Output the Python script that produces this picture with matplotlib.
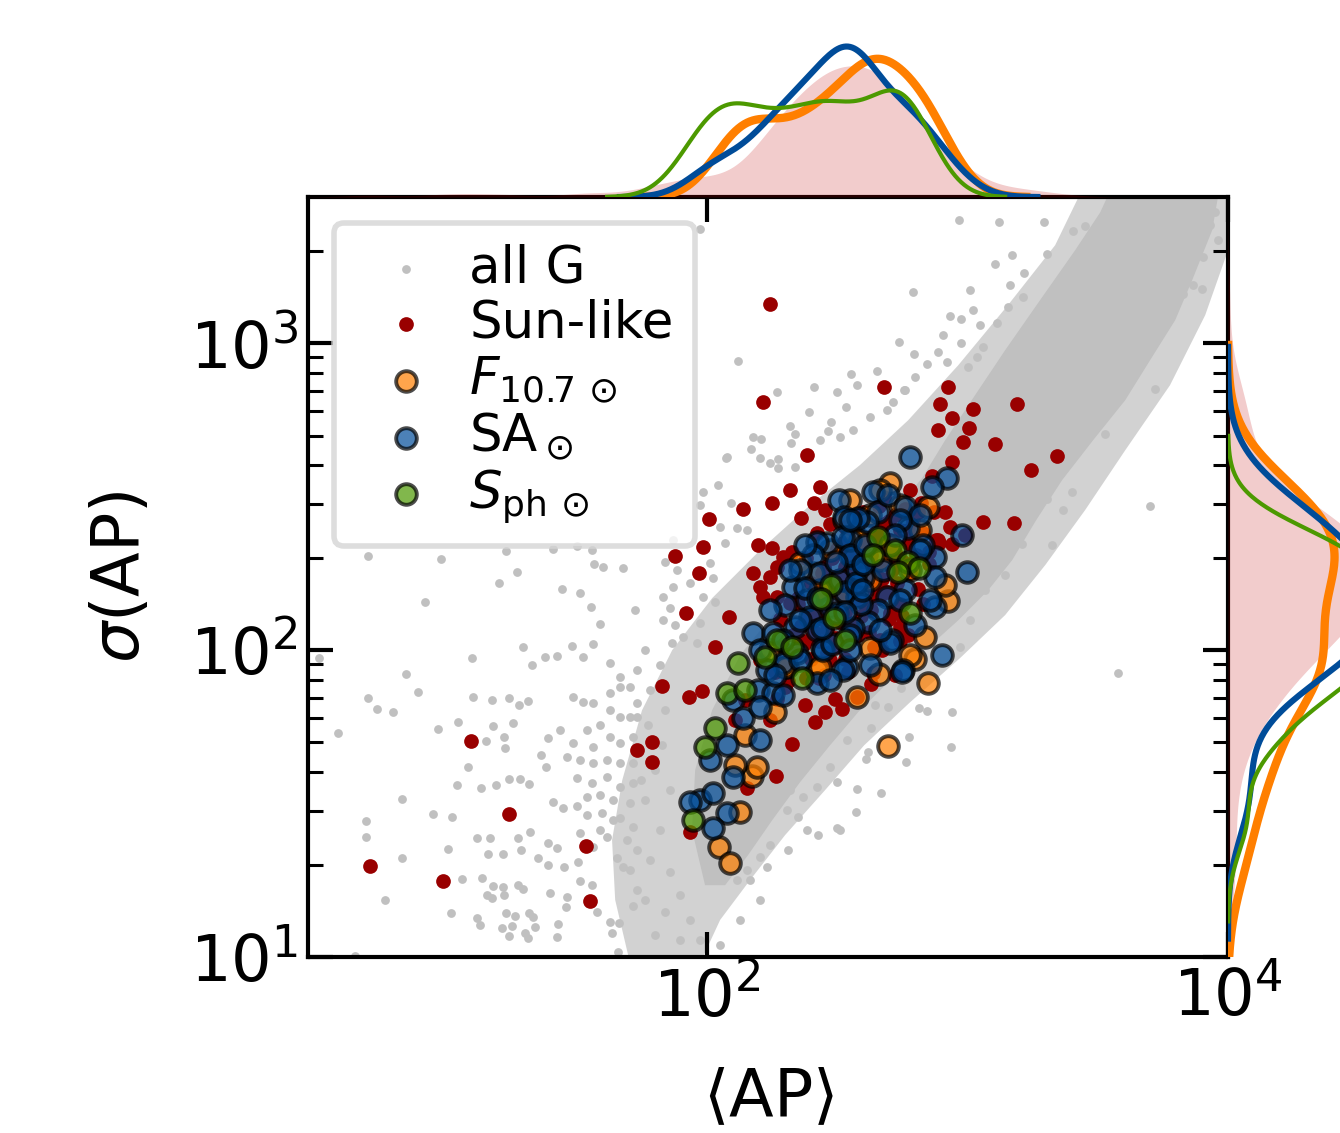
import numpy as np
import matplotlib.pyplot as plt
from matplotlib.ticker import NullLocator

# all values are log10(<AP>) and log10(sigma(AP))
# (points that sit under the Sun markers are estimated from what peeks through)

# Sun-like stars
sun_lx = [0.706, 0.987, 1.094, 1.240, 1.536, 1.551, 1.731, 1.789, 1.789, 1.827,
          1.931, 1.981, 1.935, 2.031, 1.920, 2.085, 1.877, 1.969, 1.985, 2.008,
          2.138, 2.250, 2.319, 2.384, 2.411, 2.434, 2.453, 2.196, 2.250, 2.326,
          2.292, 2.269, 2.177, 2.242, 2.204, 2.215, 2.269, 2.319, 2.242, 2.215,
          2.680, 2.925, 2.895, 3.021, 3.190, 2.941, 3.006, 2.887, 2.983, 3.106,
          3.344, 2.941, 3.244, 2.779, 2.864, 3.060, 3.179, 2.914, 2.933, 2.887,
          2.941, 2.326, 2.265, 2.415, 2.453, 2.518, 2.491, 2.376, 2.154, 2.637,
          2.576, 2.741, 2.703, 2.357, 2.472, 2.587, 2.664, 2.741, 2.511, 2.280,
          2.204, 2.146, 2.108, 2.242, 2.990,
          2.36, 2.42, 2.47, 2.53, 2.59, 2.64, 2.70, 2.77, 2.81, 2.88,
          2.38, 2.45, 2.55, 2.62, 2.71, 2.78, 2.85, 2.35, 2.44, 2.52,
          2.61, 2.68, 2.75, 2.83, 2.40, 2.49, 2.58, 2.67, 2.74, 2.43,
          2.54, 2.63, 2.72, 2.31, 2.27,
          2.26, 2.29, 2.31, 2.33, 2.34, 2.36, 2.37, 2.39, 2.40, 2.41,
          2.42, 2.43, 2.44, 2.45, 2.46, 2.47, 2.48, 2.49, 2.50, 2.50,
          2.51, 2.52, 2.53, 2.53, 2.54, 2.55, 2.55, 2.56, 2.57, 2.57,
          2.58, 2.59, 2.59, 2.60, 2.61, 2.61, 2.62, 2.63, 2.63, 2.64,
          2.65, 2.65, 2.66, 2.67, 2.67, 2.68, 2.69, 2.69, 2.70, 2.71,
          2.72, 2.72, 2.73, 2.74, 2.75, 2.76, 2.77, 2.78, 2.79, 2.80,
          2.82, 2.83, 2.85, 2.87, 2.89, 2.35, 2.44, 2.52, 2.58, 2.48,
          2.38, 2.46, 2.54, 2.62, 2.70, 2.60, 2.66, 2.56, 2.50, 2.43,
          2.30, 2.28, 2.40, 2.64, 2.74, 2.81, 2.77, 2.68, 2.53, 2.45]
sun_ly = [1.296, 1.247, 1.703, 1.466, 1.361, 1.182, 1.674, 1.700, 1.635, 1.883,
          1.847, 1.866, 1.407, 2.010, 2.120, 2.107, 2.306, 2.251, 2.335, 2.426,
          2.459, 2.479, 2.521, 2.635, 2.479, 2.531, 2.456, 2.342, 2.332, 2.319,
          2.303, 2.270, 2.251, 2.238, 2.205, 2.172, 2.172, 2.153, 3.127, 2.808,
          2.856, 2.856, 2.801, 2.785, 2.801, 2.755, 2.723, 2.716, 2.677, 2.671,
          2.632, 2.612, 2.586, 2.521, 2.566, 2.417, 2.413, 2.449, 2.400, 2.358,
          2.345, 1.694, 1.589, 1.765, 1.798, 1.808, 1.840, 1.821, 1.550, 1.925,
          1.847, 2.075, 2.120, 2.032, 1.967, 2.163, 2.032, 2.293, 2.244, 2.097,
          1.967, 1.837, 1.772, 1.772, 2.374,
          2.43, 2.38, 2.41, 2.40, 2.44, 2.37, 2.42, 2.39, 2.45, 2.36,
          2.30, 2.27, 2.31, 2.26, 2.29, 2.28, 2.32, 2.17, 2.12, 2.16,
          2.14, 2.19, 2.11, 2.15, 2.04, 2.01, 2.05, 2.00, 2.03, 1.91,
          1.93, 1.89, 1.92, 1.90, 1.84,
          1.93, 2.01, 1.96, 2.05, 1.99, 2.08, 2.02, 2.11, 1.97, 2.06,
          2.14, 2.03, 2.10, 2.18, 2.07, 2.13, 2.21, 2.04, 2.16, 2.24,
          2.09, 2.19, 2.27, 2.12, 2.22, 2.15, 2.30, 2.08, 2.25, 2.18,
          2.33, 2.11, 2.21, 2.28, 2.16, 2.36, 2.24, 2.31, 2.13, 2.20,
          2.38, 2.27, 2.17, 2.34, 2.23, 2.41, 2.29, 2.19, 2.36, 2.26,
          2.44, 2.32, 2.22, 2.39, 2.29, 2.46, 2.35, 2.25, 2.42, 2.31,
          2.48, 2.38, 2.28, 2.45, 2.35, 2.15, 2.25, 2.35, 2.41, 2.30,
          1.91, 1.99, 2.03, 2.06, 2.10, 2.45, 2.47, 2.39, 2.33, 2.20,
          1.88, 2.10, 2.22, 2.01, 2.15, 2.20, 2.05, 2.50, 1.97, 1.92]

# F10.7 (Sun)
f107_lx = [2.837, 2.798, 2.848, 2.695, 2.660, 2.576, 2.173, 2.192, 2.127, 2.046,
           2.088, 2.307, 2.422, 2.261, 2.108, 2.561, 2.703, 2.848, 2.925, 2.914,
           2.626, 2.779, 2.407, 2.357, 2.434, 2.299, 2.511, 2.664, 2.242, 2.146,
           2.549, 2.626, 2.741, 2.664, 2.526, 2.818, 2.587, 2.472, 2.703, 2.779,
           2.626, 2.434]
f107_ly = [2.042, 1.971, 1.892, 1.687, 1.922, 1.847, 1.589, 1.619, 1.472, 1.358,
           1.306, 1.944, 1.935, 1.798, 1.625, 2.381, 2.544, 2.466, 2.159, 2.211,
           2.006, 1.984, 2.251, 2.283, 1.944, 1.944, 2.163, 2.293, 2.000, 1.723,
           2.488, 2.439, 2.472, 2.521, 2.423, 2.391, 2.358, 2.326, 2.342, 2.260,
           2.228, 2.195]

# SA (Sun)
sa_lx = [2.779, 2.921, 2.864, 2.979, 2.998, 2.637, 2.507, 2.526, 2.656, 2.695,
         2.760, 2.614, 2.772, 2.818, 2.875, 2.829, 2.561, 2.599, 2.676, 2.760,
         2.461, 2.875, 2.875, 2.691, 2.576, 2.656, 2.618, 2.710, 2.902, 2.561,
         2.741, 2.511, 2.472, 2.422, 2.407, 2.434, 2.330, 2.576, 2.384, 2.395,
         2.856, 2.338, 2.422, 2.441, 2.537, 2.422, 2.752, 2.177, 2.253, 2.345,
         2.292, 2.230, 2.196, 2.253, 2.292, 2.100, 2.138, 2.204, 2.204, 2.077,
         2.012, 2.100, 1.973, 2.023, 2.077, 2.023, 1.935, 2.522, 2.445, 2.749,
         2.703, 2.357, 2.549,
         2.52, 2.55, 2.58, 2.53, 2.57, 2.50, 2.55, 2.60, 2.48, 2.59,
         2.319, 2.376, 2.299, 2.357, 2.441, 2.292, 2.495, 2.426, 2.530, 2.595,
         2.664, 2.741, 2.798, 2.549, 2.626, 2.357, 2.204, 2.472, 2.549, 2.722,
         2.818, 2.242, 2.376, 2.261, 2.607]
sa_ly = [2.628, 2.560, 2.531, 2.374, 2.254, 2.514, 2.488, 2.433, 2.449, 2.505,
         2.466, 2.417, 2.397, 2.439, 2.303, 2.342, 2.299, 2.238, 2.260, 2.195,
         2.348, 2.238, 2.140, 2.172, 2.172, 2.130, 2.091, 2.032, 1.984, 2.071,
         2.423, 2.228, 2.140, 2.352, 2.309, 2.251, 2.205, 2.260, 2.163, 2.107,
         2.163, 2.075, 2.065, 2.006, 1.944, 1.892, 1.935, 2.055, 2.055, 1.990,
         1.957, 1.935, 1.870, 1.860, 1.853, 1.837, 1.778, 1.814, 1.707, 1.690,
         1.642, 1.586, 1.511, 1.534, 1.469, 1.420, 1.505, 1.935, 2.000, 1.928,
         2.023, 2.260, 2.358,
         2.37, 2.31, 2.43, 2.19, 2.22, 2.12, 2.05, 2.28, 2.02, 2.15,
         2.261, 2.202, 2.147, 2.098, 2.072, 2.033, 2.287, 2.169, 2.124, 2.195,
         2.065, 2.163, 2.081, 2.000, 1.951, 1.967, 2.000, 1.902, 2.423, 2.375,
         2.326, 2.130, 2.342, 1.919, 2.342]

# S_ph (Sun)
sph_lx = [2.656, 2.722, 2.637, 2.772, 2.814, 2.733, 2.476, 2.438, 2.779, 2.488,
          2.530, 2.269, 2.326, 2.223, 2.119, 2.365, 2.077, 2.146, 2.031, 1.992,
          1.946]
sph_ly = [2.368, 2.326, 2.309, 2.287, 2.267, 2.254, 2.211, 2.166, 2.120, 2.104,
          2.032, 2.032, 2.010, 1.977, 1.957, 1.909, 1.860, 1.870, 1.746, 1.684,
          1.446]

# all G stars: outline of the saturated core, outline of the dense halo, scattered stars
core_lx = [1.992, 1.942, 1.954, 2.019, 2.127, 2.261, 2.415, 2.568, 2.714, 2.825,
           2.914, 3.029, 3.144, 3.278, 3.413, 3.509, 3.560, 3.970, 3.939, 3.862,
           3.797, 3.701, 3.605, 3.482, 3.363, 3.263, 3.171, 3.079, 2.964, 2.837,
           2.703, 2.580, 2.472, 2.357, 2.250, 2.157, 2.069]
core_ly = [1.234, 1.414, 1.609, 1.804, 1.984, 2.124, 2.244, 2.342, 2.449, 2.560,
           2.684, 2.831, 2.977, 3.140, 3.303, 3.426, 3.520, 3.520, 3.368, 3.205,
           3.075, 2.945, 2.814, 2.684, 2.554, 2.423, 2.293, 2.195, 2.097, 2.000,
           1.902, 1.798, 1.690, 1.570, 1.446, 1.332, 1.234]
halo_lx = [1.704, 1.647, 1.635, 1.674, 1.750, 1.866, 2.019, 2.204, 2.395, 2.587,
           2.772, 2.964, 3.155, 3.336, 3.451, 4.000, 4.000, 3.912, 3.777, 3.605,
           3.451, 3.298, 3.144, 2.971, 2.779, 2.603, 2.453, 2.299, 2.165, 2.050,
           1.973]
halo_ly = [0.980, 1.186, 1.381, 1.576, 1.804, 2.000, 2.169, 2.326, 2.472, 2.603,
           2.749, 2.928, 3.124, 3.319, 3.520, 3.520, 3.303, 3.091, 2.863, 2.651,
           2.456, 2.277, 2.114, 1.974, 1.830, 1.690, 1.544, 1.397, 1.251, 1.121,
           0.980]

allg_lx = [0.699, 0.979, 1.228, 1.409, 1.501, 1.559, 1.271, 1.202, 1.443, 1.512,
           1.566, 1.601, 1.678, 0.918, 1.555, 1.589, 1.724, 1.294, 1.482, 1.562,
           1.524, 1.424, 1.378, 1.328, 1.098, 0.511, 0.845, 0.699, 0.733, 0.795,
           0.891, 0.584, 0.967, 1.044, 1.102, 1.175, 1.240, 1.278, 1.313, 1.179,
           1.255, 1.221, 1.225, 1.152, 1.083, 1.040, 1.132, 1.190, 1.240, 1.282,
           1.317, 1.363, 1.382, 1.390, 1.436, 0.829, 0.948, 1.021, 0.691, 0.691,
           0.829, 1.006, 1.117, 1.167, 1.159, 1.217, 1.274, 1.286, 1.321, 1.390,
           1.424, 1.351, 1.060, 1.136, 1.179, 1.217, 1.155, 1.175, 1.221, 1.274,
           1.294, 1.397, 1.463, 1.459, 1.390, 1.451, 1.505, 0.764, 1.017, 1.117,
           1.129, 1.228, 1.263, 1.317, 1.332, 1.213, 1.251, 1.240, 1.301, 1.313,
           1.340, 1.428, 1.424, 1.512, 1.559, 1.628, 1.662, 1.635, 1.658, 0.649,
           1.716, 1.731, 1.704, 1.578, 1.562, 1.512, 1.409, 1.447, 1.501, 1.539,
           1.597, 1.666, 1.716, 1.616, 1.655, 1.678, 1.486, 1.524, 1.562, 1.628,
           1.666, 1.589, 1.539, 1.486, 1.562, 1.628, 1.666, 1.716, 1.704, 1.716,
           1.666, 1.616, 1.562, 1.512, 1.463, 1.501, 1.559, 1.616, 1.666, 1.716,
           1.704, 1.639, 1.589, 1.539, 1.639, 1.693, 1.731, 1.589, 1.731, 1.666,
           1.628, 1.666, 1.731, 1.704, 1.628, 1.731,
           1.869, 1.839, 1.885, 1.935, 1.869, 1.831, 1.858, 1.877, 1.831, 1.908,
           1.866, 1.962, 1.985, 2.031, 2.023, 2.012, 2.069, 1.973, 1.985, 2.042,
           2.092, 1.973, 2.050, 2.115, 2.154, 2.077, 2.204, 2.242, 2.273, 2.338,
           1.762, 1.820, 1.781, 1.839, 1.800, 1.858, 1.762, 1.820, 1.781, 1.858,
           1.762, 1.839, 1.896, 1.935, 1.973, 1.896, 1.800, 1.774, 1.827, 1.747,
           1.973, 2.119, 2.737, 2.653, 2.553, 2.576, 2.499, 2.411, 2.269, 2.392,
           2.534, 2.476, 2.319, 2.338, 2.465, 2.177, 2.207, 2.073, 2.169, 2.273,
           2.322, 2.434, 2.511, 2.561, 2.626, 2.691, 2.756, 2.714,
           2.967, 3.121, 3.294, 3.405, 3.451, 2.791, 3.010, 3.106, 3.171, 3.305,
           3.217, 3.163, 3.213, 3.021, 2.933, 2.975, 2.906, 2.975, 2.887, 2.795,
           2.760, 2.798, 2.845, 2.921, 3.048, 3.113, 3.155, 3.060, 3.002, 3.036,
           3.950, 3.931, 3.962, 3.904, 3.866, 3.900, 3.827, 3.777, 3.766, 3.727,
           3.689, 3.651, 3.635, 3.593, 3.720, 3.532, 3.528, 3.470, 3.482, 3.405,
           3.420, 3.355, 3.401, 3.305, 3.367, 3.267, 3.240, 3.228, 3.701, 3.324,
           3.209, 3.152, 3.117, 3.067, 3.144, 3.010,
           3.578, 2.745, 2.814, 2.845, 2.941, 2.775, 2.937, 2.764, 2.618, 2.610,
           2.537, 2.630, 2.576, 2.668, 2.572, 2.511, 2.645, 2.695, 2.971,
           2.319, 2.369, 2.422, 2.472, 2.499, 2.307, 2.349, 2.384, 2.311, 2.242,
           2.204, 2.230, 2.499, 2.426, 2.154, 2.165, 2.115, 2.204, 2.127, 2.050]
allg_ly = [2.306, 2.296, 2.322, 2.329, 2.339, 2.326, 2.254, 2.218, 2.198, 2.186,
           2.280, 2.270, 2.267, 2.156, 2.140, 2.084, 2.130, 2.010, 2.013, 2.019,
           1.977, 1.980, 1.977, 1.951, 1.974, 1.974, 1.922, 1.843, 1.808, 1.798,
           1.863, 1.729, 1.742, 1.765, 1.847, 1.837, 1.843, 1.821, 1.834, 1.752,
           1.762, 1.716, 1.681, 1.703, 1.619, 1.560, 1.550, 1.560, 1.580, 1.580,
           1.563, 1.658, 1.619, 1.713, 1.739, 1.515, 1.466, 1.456, 1.443, 1.391,
           1.322, 1.352, 1.387, 1.387, 1.335, 1.335, 1.387, 1.348, 1.407, 1.371,
           1.355, 1.322, 1.254, 1.257, 1.231, 1.228, 1.202, 1.192, 1.202, 1.234,
           1.221, 1.208, 1.195, 1.163, 1.300, 1.293, 1.309, 1.186, 1.143, 1.127,
           1.104, 1.143, 1.133, 1.143, 1.130, 1.094, 1.101, 1.068, 1.078, 1.062,
           1.098, 1.107, 1.065, 1.247, 1.234, 1.114, 1.111, 1.078, 1.016, 1.003,
           1.166, 1.218, 1.283, 1.146, 1.358, 1.404, 1.505, 1.485, 1.492, 1.462,
           1.469, 1.453, 1.423, 1.391, 1.322, 1.293, 1.847, 1.830, 1.827, 1.860,
           1.782, 1.756, 1.739, 1.697, 1.684, 1.716, 1.697, 1.716, 1.782, 1.632,
           1.632, 1.642, 1.632, 1.642, 1.651, 1.583, 1.567, 1.586, 1.554, 1.567,
           1.501, 1.511, 1.528, 1.521, 1.446, 1.381, 1.348, 1.414, 1.935, 1.912,
           1.957, 1.879, 1.827, 1.879, 1.804, 1.782,
           2.358, 2.287, 2.260, 2.218, 2.205, 2.172, 2.137, 2.081, 2.097, 2.042,
           2.023, 2.023, 2.172, 2.156, 2.234, 2.283, 2.348, 2.088, 2.514, 2.537,
           2.479, 2.472, 2.400, 2.397, 2.391, 2.628, 2.625, 2.609, 2.593, 2.596,
           2.000, 1.951, 1.870, 1.804, 1.609, 1.544, 1.511, 1.414, 1.316, 1.277,
           1.186, 1.146, 1.202, 1.121, 1.055, 1.055, 1.072, 1.756, 1.690, 1.576,
           3.371, 2.941, 3.003, 2.909, 2.899, 2.863, 2.840, 2.856, 2.840, 2.775,
           2.791, 2.742, 2.729, 2.703, 2.713, 2.694, 2.687, 2.625, 2.654, 2.622,
           2.674, 2.684, 2.694, 2.716, 2.759, 2.782, 2.847, 2.808,
           3.400, 3.394, 3.394, 3.364, 3.381, 3.166, 3.172, 3.257, 3.286, 3.290,
           3.228, 3.189, 3.150, 3.107, 3.088, 3.078, 3.026, 3.000, 2.970, 2.964,
           2.847, 2.889, 2.931, 2.938, 3.058, 3.065, 3.117, 2.987, 2.922, 2.954,
           3.426, 3.384, 3.335, 3.280, 3.189, 3.176, 3.159, 3.127, 3.094, 3.029,
           2.996, 2.964, 2.922, 2.902, 2.850, 2.785, 2.703, 2.798, 2.765, 2.703,
           2.645, 2.576, 2.514, 2.492, 2.456, 2.540, 2.524, 2.498, 2.469, 2.342,
           2.345, 2.374, 2.345, 2.195, 2.244, 2.097,
           1.925, 1.876, 1.811, 1.801, 1.798, 1.716, 1.684, 1.635, 1.668, 1.645,
           1.707, 1.746, 1.547, 1.534, 1.472, 1.414, 1.821, 1.814, 2.010,
           1.544, 1.521, 1.554, 1.619, 1.570, 1.479, 1.456, 1.414, 1.348, 1.365,
           1.326, 1.293, 1.420, 1.397, 1.283, 1.251, 1.251, 1.186, 1.121, 1.039]

c_gray = '#c0c0c0'
c_red = '#990000'
c_pink = '#c00000'
c_orange = '#ff7f00'
c_blue = '#004c99'
c_green = '#4c9900'


def kde(vals, bw, cut=3, n=400):
    v = np.asarray(vals)
    g = np.linspace(v.min() - cut * bw, v.max() + cut * bw, n)
    d = np.exp(-0.5 * ((g[:, None] - v[None, :]) / bw) ** 2).sum(1)
    return g, d / (len(v) * bw * np.sqrt(2 * np.pi))


p = lambda a: 10 ** np.asarray(a)

fig = plt.figure(figsize=(6.7, 5.665), dpi=200)
ax = fig.add_axes([0.2299, 0.1553, 0.6866, 0.6708])
ax_top = fig.add_axes([0.2299, 0.8261, 0.6866, 0.1395], sharex=ax)
ax_right = fig.add_axes([0.9164, 0.1553, 0.1179, 0.6708], sharey=ax)

ax.set_xscale('log')
ax.set_yscale('log')

ax.fill(p(halo_lx), p(halo_ly), color=c_gray, alpha=0.7, lw=0, zorder=1)
ax.fill(p(core_lx), p(core_ly), color=c_gray, lw=0, zorder=1.1)
ax.scatter(p(allg_lx), p(allg_ly), s=10, c=c_gray, lw=0, zorder=1.2, label='all G')
ax.scatter(p(sun_lx), p(sun_ly), s=28, c=c_red, lw=0, zorder=2, label='Sun-like')
kw = dict(s=55, edgecolors='k', linewidths=1.4, alpha=0.7)
ax.scatter(p(f107_lx), p(f107_ly), c=c_orange, zorder=3,
           label=r'$F_{10.7\,\odot}$', **kw)
ax.scatter(p(sa_lx), p(sa_ly), c=c_blue, zorder=4, label=r'SA$_\odot$', **kw)
ax.scatter(p(sph_lx), p(sph_ly), c=c_green, zorder=5,
           label=r'$S_{\rm ph\,\odot}$', **kw)

ax.set_xlim(10 ** 0.468, 1e4)
ax.set_ylim(10, 10 ** 3.476)
ax.set_xticks([1e2, 1e4])
ax.xaxis.set_minor_locator(NullLocator())
ax.tick_params(which='both', direction='in', top=True, right=True, labelsize=23)
ax.tick_params(which='major', length=9, width=1.5)
ax.tick_params(which='minor', length=5.5, width=1.1)
for s in ax.spines.values():
    s.set_linewidth(1.5)
ax.set_xlabel(r'$\langle$AP$\rangle$', fontsize=23.5, labelpad=13)
ax.set_ylabel(r'$\sigma$(AP)', fontsize=23.5, labelpad=13)

leg = ax.legend(loc='upper left', fontsize=18.5, labelspacing=0.1,
                handlelength=2, handletextpad=0.23, borderaxespad=0.5,
                borderpad=0.41, fancybox=True)
leg.get_frame().set_edgecolor('#d5d5d5')
leg.get_frame().set_linewidth(2)

# marginal distributions, each panel scaled to its own highest curve
bw_x = {'sun': 0.10, 'f107': 0.10, 'sa': 0.09, 'sph': 0.11}
bw_y = {'sun': 0.12, 'f107': 0.15, 'sa': 0.12, 'sph': 0.11}
series = [('f107', f107_lx, f107_ly, c_orange, 3.0),
          ('sa', sa_lx, sa_ly, c_blue, 2.2),
          ('sph', sph_lx, sph_ly, c_green, 1.5)]

g, d = kde(sun_lx, bw_x['sun'])
ax_top.fill_between(p(g), d, color=c_pink, alpha=0.2, lw=0)
top_max = d.max()
g, d = kde(sun_ly, bw_y['sun'])
ax_right.fill_betweenx(p(g), d, color=c_pink, alpha=0.2, lw=0)
right_max = d.max()

for key, lx, ly, col, lw in series:
    g, d = kde(lx, bw_x[key])
    ax_top.plot(p(g), d, color=col, lw=lw)
    top_max = max(top_max, d.max())
    g, d = kde(ly, bw_y[key])
    ax_right.plot(d, p(g), color=col, lw=lw)
    right_max = max(right_max, d.max())

ax_top.set_ylim(0, top_max * 1.05)
ax_right.set_xlim(0, right_max * 1.05)
ax_top.axis('off')
ax_right.axis('off')

fig.savefig('out.png', dpi=200)
